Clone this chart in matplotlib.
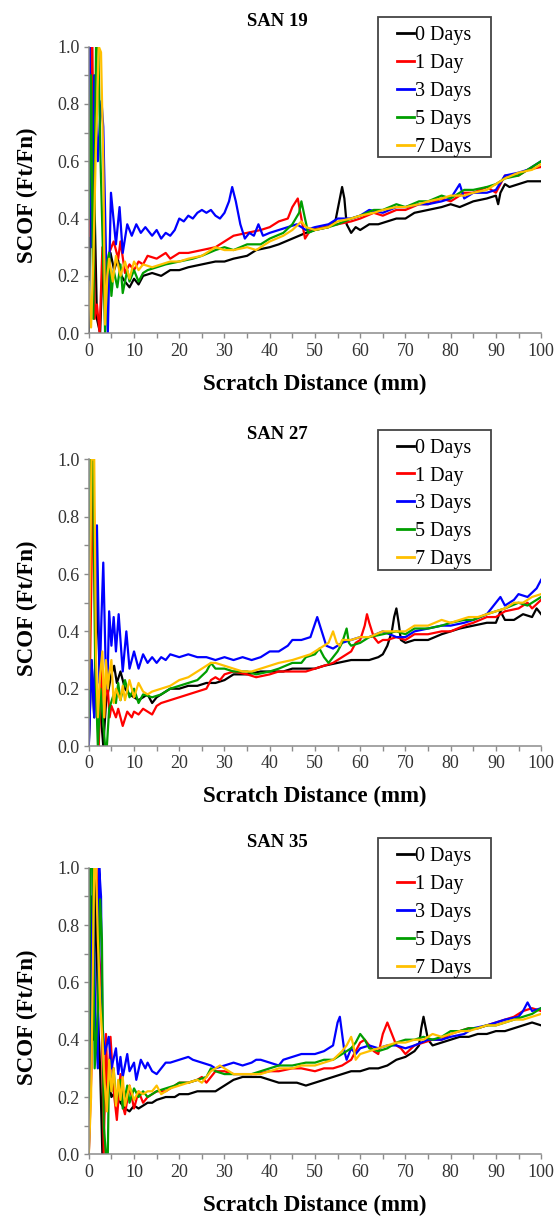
import matplotlib

matplotlib.use('Agg')

import matplotlib.pyplot as plt
from matplotlib.patches import Rectangle
from matplotlib.ticker import MultipleLocator

plt.rcParams['font.family'] = ['Liberation Serif', 'DejaVu Serif']

series_labels = ['0 Days', '1 Day', '3 Days', '5 Days', '7 Days']
series_colors = ['#000000', '#ff0000', '#0000ff', '#009e00', '#ffc000']
panel_titles = ['SAN 19', 'SAN 27', 'SAN 35']

#   SAN 19: (scratch distance mm, SCOF) for each ageing time
san19_0d = [(0, 0.0), (0.6, 1.0), (1.2, 0.5), (1.8, 0.05), (2.5, 0.0), (3.2, 0.3), (4.0, 0.1), (4.8, 0.28),
            (5.6, 0.22), (6.4, 0.26), (7.2, 0.2), (8, 0.18), (9, 0.16), (10, 0.19), (11, 0.17), (12, 0.20),
            (14, 0.21), (16, 0.20), (18, 0.22), (20, 0.22), (22, 0.23), (25, 0.24), (28, 0.25), (30, 0.25),
            (32, 0.26), (35, 0.27), (37, 0.29), (40, 0.30), (42, 0.31), (45, 0.33), (48, 0.35), (50, 0.36),
            (53, 0.37), (54.5, 0.39), (55.5, 0.47), (56, 0.51), (56.5, 0.47), (57, 0.38), (58, 0.35), (59, 0.37),
            (60, 0.36), (62, 0.38), (64, 0.38), (66, 0.39), (68, 0.40), (70, 0.40), (72, 0.42), (75, 0.43),
            (78, 0.44), (80, 0.45), (82, 0.44), (85, 0.46), (88, 0.47), (90, 0.48), (90.5, 0.45), (91, 0.49),
            (92, 0.52), (93, 0.51), (95, 0.52), (97, 0.53), (100, 0.53)]
san19_1d = [(0, 0.34), (0.4, 1.0), (0.8, 1.0), (1.3, 0.05), (1.8, 0.1), (2.4, 0.0), (3.0, 0.3), (3.6, 0.15),
            (4.5, 0.28), (5.5, 0.32), (6.5, 0.26), (7, 0.32), (8, 0.21), (9, 0.24), (10, 0.22), (11, 0.25),
            (12, 0.24), (13, 0.27), (15, 0.26), (17, 0.28), (18, 0.26), (20, 0.28), (22, 0.28), (25, 0.29),
            (28, 0.30), (30, 0.32), (32, 0.34), (35, 0.35), (38, 0.36), (40, 0.37), (42, 0.39), (44, 0.40),
            (45, 0.44), (46.2, 0.47), (47, 0.40), (47.8, 0.33), (49, 0.36), (52, 0.37), (55, 0.38), (58, 0.39),
            (60, 0.40), (63, 0.42), (65, 0.41), (68, 0.43), (70, 0.43), (73, 0.45), (75, 0.45), (78, 0.47),
            (80, 0.46), (83, 0.49), (85, 0.49), (88, 0.51), (90, 0.49), (92, 0.55), (95, 0.55), (97, 0.57),
            (100, 0.58)]
san19_3d = [(0, 1.0), (0.2, 1.0), (0.6, 0.3), (1.2, 0.9), (2.0, 0.6), (2.5, 0.75), (2.8, 0.81), (3.2, 0.72),
            (3.7, 0.35), (4.2, 0.0), (4.9, 0.49), (6, 0.31), (6.8, 0.44), (7.5, 0.28), (8.5, 0.38), (9.5, 0.34),
            (10.5, 0.38), (11.5, 0.35), (12.5, 0.37), (14, 0.34), (15, 0.36), (16, 0.33), (17, 0.35), (18, 0.34),
            (19, 0.36), (20, 0.40), (21, 0.39), (22, 0.41), (23, 0.40), (24, 0.42), (25, 0.43), (26, 0.42),
            (27, 0.43), (28, 0.41), (29, 0.40), (30, 0.42), (31, 0.46), (31.7, 0.51), (32.5, 0.46), (33.5, 0.38),
            (34.5, 0.33), (35.5, 0.35), (36.5, 0.34), (37.5, 0.38), (38.5, 0.34), (40, 0.35), (42, 0.36),
            (44, 0.37), (46, 0.38), (48, 0.36), (50, 0.37), (53, 0.38), (55, 0.40), (58, 0.40), (60, 0.41),
            (62, 0.43), (65, 0.42), (68, 0.44), (70, 0.44), (73, 0.45), (75, 0.45), (78, 0.46), (80, 0.47),
            (82, 0.52), (83, 0.47), (85, 0.49), (88, 0.49), (90, 0.50), (92, 0.55), (95, 0.56), (97, 0.57),
            (100, 0.60)]
san19_5d = [(0, 0.4), (0.5, 0.9), (1.0, 0.05), (1.6, 1.0), (2.1, 1.0), (2.6, 0.6), (3.1, 0.3), (3.6, 0.0),
            (4.1, 0.25), (4.5, 0.28), (5, 0.13), (5.5, 0.22), (6.3, 0.16), (7, 0.24), (7.5, 0.14), (8.5, 0.22),
            (9, 0.18), (10, 0.22), (11, 0.18), (12, 0.21), (13, 0.22), (15, 0.23), (17, 0.24), (20, 0.25),
            (23, 0.26), (25, 0.27), (28, 0.29), (30, 0.30), (32, 0.29), (35, 0.31), (38, 0.31), (40, 0.33),
            (43, 0.35), (45, 0.38), (46.5, 0.42), (47, 0.46), (47.8, 0.40), (48.5, 0.35), (50, 0.36), (53, 0.37),
            (55, 0.38), (58, 0.40), (60, 0.41), (63, 0.43), (65, 0.43), (68, 0.45), (70, 0.44), (73, 0.46),
            (75, 0.46), (78, 0.48), (80, 0.47), (83, 0.50), (85, 0.50), (88, 0.51), (90, 0.52), (92, 0.54),
            (95, 0.55), (97, 0.57), (100, 0.60)]
san19_7d = [(0, 0.18), (0.5, 0.02), (1.0, 0.25), (1.5, 0.6), (2.2, 1.0), (2.7, 0.98), (3.2, 0.6), (3.6, 0.03),
            (4.1, 0.2), (4.5, 0.26), (5.3, 0.18), (6, 0.27), (7, 0.20), (8, 0.25), (9, 0.19), (10, 0.25),
            (11, 0.22), (12, 0.24), (14, 0.23), (16, 0.24), (18, 0.25), (20, 0.25), (22, 0.26), (25, 0.27),
            (28, 0.30), (30, 0.29), (32, 0.29), (35, 0.30), (37, 0.29), (40, 0.32), (43, 0.34), (45, 0.36),
            (47, 0.39), (48, 0.37), (50, 0.36), (53, 0.37), (55, 0.39), (58, 0.40), (60, 0.41), (63, 0.42),
            (65, 0.43), (68, 0.44), (70, 0.44), (73, 0.45), (75, 0.46), (78, 0.47), (80, 0.48), (83, 0.48),
            (85, 0.49), (88, 0.50), (90, 0.52), (92, 0.54), (95, 0.56), (98, 0.57), (100, 0.59)]

#   SAN 27
san27_0d = [(0, 0.0), (0.6, 0.3), (1.2, 0.1), (1.8, 0.54), (2.2, 0.35), (2.7, 0.1), (3.2, 0.0), (3.8, 0.15),
            (4.4, 0.2), (5.0, 0.25), (5.6, 0.28), (6.2, 0.22), (7, 0.26), (8, 0.20), (9, 0.18), (10, 0.17),
            (11, 0.16), (12, 0.17), (13, 0.18), (14, 0.15), (15, 0.17), (16, 0.18), (17, 0.19), (18, 0.20),
            (20, 0.20), (22, 0.21), (24, 0.21), (26, 0.22), (28, 0.22), (30, 0.23), (32, 0.25), (35, 0.25),
            (38, 0.26), (40, 0.26), (43, 0.26), (45, 0.27), (48, 0.27), (50, 0.27), (52, 0.28), (55, 0.29),
            (58, 0.30), (60, 0.30), (62, 0.30), (64, 0.31), (65, 0.32), (66, 0.35), (67, 0.40), (67.5, 0.45),
            (68, 0.48), (68.5, 0.43), (69, 0.37), (70, 0.36), (72, 0.37), (75, 0.37), (78, 0.39), (80, 0.40),
            (82, 0.41), (85, 0.42), (88, 0.43), (90, 0.43), (91, 0.47), (92, 0.44), (94, 0.44), (96, 0.46),
            (98, 0.45), (99, 0.48), (100, 0.46)]
san27_1d = [(0, 0.0), (0.5, 0.5), (1.0, 1.0), (1.6, 0.2), (2.2, 0.0), (2.8, 0.3), (3.4, 0.1), (4.0, 0.25),
            (4.6, 0.1), (5, 0.14), (6, 0.10), (6.5, 0.13), (7.5, 0.07), (8.5, 0.12), (9.5, 0.10), (10, 0.12),
            (11, 0.11), (12, 0.13), (13, 0.12), (14, 0.11), (15, 0.14), (16, 0.15), (18, 0.16), (20, 0.17),
            (22, 0.18), (24, 0.19), (26, 0.20), (27, 0.23), (28, 0.24), (29, 0.23), (30, 0.25), (32, 0.26),
            (35, 0.25), (37, 0.24), (40, 0.25), (42, 0.26), (45, 0.26), (48, 0.26), (50, 0.27), (52, 0.28),
            (54, 0.29), (56, 0.31), (58, 0.33), (59, 0.36), (60, 0.37), (61, 0.42), (61.5, 0.46), (62, 0.43),
            (63, 0.38), (64, 0.36), (65, 0.37), (66, 0.37), (68, 0.38), (70, 0.37), (72, 0.39), (75, 0.39),
            (78, 0.40), (80, 0.40), (83, 0.42), (85, 0.43), (88, 0.45), (90, 0.45), (92, 0.47), (95, 0.48),
            (97, 0.50), (98, 0.48), (100, 0.51)]
san27_3d = [(0, 0.0), (0.6, 0.3), (1.2, 0.1), (1.8, 0.77), (2.4, 0.22), (2.8, 0.45), (3.2, 0.64), (3.7, 0.3),
            (4.1, 0.2), (4.5, 0.47), (5, 0.35), (5.5, 0.45), (6, 0.33), (6.6, 0.46), (7.5, 0.26), (8.3, 0.40),
            (9, 0.27), (10, 0.33), (11, 0.27), (12, 0.32), (13, 0.29), (14, 0.31), (15, 0.29), (16, 0.31),
            (17, 0.30), (18, 0.32), (20, 0.31), (22, 0.32), (24, 0.31), (26, 0.31), (28, 0.30), (30, 0.31),
            (32, 0.30), (34, 0.31), (36, 0.30), (38, 0.31), (40, 0.33), (42, 0.33), (44, 0.35), (45, 0.37),
            (47, 0.37), (49, 0.38), (50.5, 0.45), (51.5, 0.40), (52.5, 0.35), (54, 0.34), (56, 0.36), (58, 0.37),
            (60, 0.38), (62, 0.38), (65, 0.40), (68, 0.38), (70, 0.38), (72, 0.40), (75, 0.41), (78, 0.42),
            (80, 0.42), (83, 0.43), (85, 0.44), (88, 0.46), (90, 0.50), (91, 0.52), (92, 0.49), (94, 0.51),
            (95, 0.53), (97, 0.52), (99, 0.55), (100, 0.58)]
san27_5d = [(0, 0.1), (0.4, 1.0), (0.9, 1.0), (1.4, 0.3), (2.0, 0.0), (2.6, 0.2), (3.1, 0.1), (3.6, 0.0),
            (4.0, 0.0), (4.5, 0.13), (5.5, 0.18), (6, 0.15), (6.5, 0.22), (7, 0.16), (8, 0.23), (9, 0.17),
            (10, 0.20), (11, 0.15), (12, 0.18), (14, 0.17), (16, 0.18), (18, 0.20), (20, 0.21), (22, 0.22),
            (24, 0.23), (26, 0.26), (27, 0.29), (28, 0.27), (30, 0.27), (32, 0.26), (35, 0.26), (37, 0.25),
            (40, 0.26), (42, 0.27), (45, 0.29), (47, 0.29), (48, 0.31), (50, 0.32), (51, 0.34), (52, 0.31),
            (53, 0.29), (55, 0.33), (56, 0.36), (57, 0.41), (57.5, 0.36), (58, 0.35), (60, 0.36), (62, 0.38),
            (65, 0.39), (68, 0.40), (70, 0.39), (72, 0.41), (75, 0.41), (78, 0.42), (80, 0.43), (83, 0.44),
            (85, 0.44), (88, 0.46), (90, 0.47), (92, 0.48), (95, 0.50), (97, 0.49), (100, 0.52)]
san27_7d = [(0, 0.2), (0.6, 1.0), (1.2, 1.0), (1.6, 0.3), (2.0, 0.1), (2.5, 0.25), (3.0, 0.33), (3.4, 0.1),
            (3.8, 0.3), (4.2, 0.2), (4.5, 0.25), (5, 0.30), (5.5, 0.15), (6, 0.20), (7, 0.16), (7.5, 0.21),
            (8, 0.16), (9, 0.23), (10, 0.17), (11, 0.22), (12, 0.19), (13, 0.18), (14, 0.19), (16, 0.20),
            (18, 0.21), (20, 0.23), (22, 0.24), (24, 0.26), (26, 0.28), (27, 0.29), (28, 0.29), (30, 0.28),
            (32, 0.27), (34, 0.26), (36, 0.26), (38, 0.27), (40, 0.28), (42, 0.29), (45, 0.30), (47, 0.31),
            (49, 0.32), (51, 0.34), (53, 0.36), (54, 0.40), (54.8, 0.36), (55.5, 0.35), (56, 0.37), (58, 0.37),
            (60, 0.38), (62, 0.38), (65, 0.40), (68, 0.40), (70, 0.40), (72, 0.42), (75, 0.42), (78, 0.44),
            (80, 0.43), (82, 0.44), (84, 0.45), (86, 0.45), (88, 0.46), (90, 0.47), (92, 0.48), (94, 0.50),
            (96, 0.50), (98, 0.52), (100, 0.53)]

#   SAN 35
san35_0d = [(0, 0.0), (0.5, 0.9), (1.0, 0.4), (1.5, 1.0), (2.0, 0.5), (2.5, 0.3), (3.0, 0.0), (3.5, 0.2),
            (4.0, 0.3), (5.0, 0.2), (6.0, 0.22), (7.0, 0.18), (8, 0.16), (9, 0.15), (10, 0.17), (11, 0.16),
            (12, 0.17), (13, 0.18), (14, 0.18), (15, 0.19), (17, 0.20), (19, 0.20), (20, 0.21), (22, 0.21),
            (24, 0.22), (26, 0.22), (28, 0.22), (30, 0.24), (32, 0.26), (34, 0.27), (36, 0.27), (38, 0.27),
            (40, 0.26), (42, 0.25), (44, 0.25), (46, 0.25), (48, 0.24), (50, 0.25), (52, 0.26), (54, 0.27),
            (56, 0.28), (58, 0.29), (60, 0.29), (62, 0.30), (64, 0.30), (66, 0.31), (68, 0.33), (70, 0.34),
            (72, 0.36), (73, 0.38), (73.5, 0.44), (74, 0.48), (74.5, 0.44), (75, 0.40), (76, 0.38), (78, 0.39),
            (80, 0.40), (82, 0.41), (84, 0.41), (86, 0.42), (88, 0.42), (90, 0.43), (92, 0.43), (94, 0.44),
            (96, 0.45), (98, 0.46), (100, 0.45)]
san35_1d = [(0, 0.0), (0.6, 0.3), (1.1, 1.0), (1.7, 1.0), (2.3, 0.7), (2.8, 0.57), (3.3, 0.0), (3.8, 0.42),
            (4.2, 0.20), (4.8, 0.41), (5.5, 0.22), (6.2, 0.12), (7, 0.28), (7.5, 0.17), (8, 0.14), (9, 0.24),
            (10, 0.16), (11, 0.22), (12, 0.18), (13, 0.20), (14, 0.21), (15, 0.22), (17, 0.22), (19, 0.24),
            (20, 0.25), (22, 0.25), (24, 0.26), (25, 0.27), (26, 0.25), (27, 0.27), (28, 0.29), (30, 0.29),
            (32, 0.28), (35, 0.28), (37, 0.28), (40, 0.29), (42, 0.29), (45, 0.30), (47, 0.30), (50, 0.29),
            (52, 0.30), (54, 0.30), (56, 0.31), (57, 0.32), (58, 0.33), (59, 0.36), (60, 0.39), (61, 0.40),
            (62, 0.38), (63, 0.36), (64, 0.35), (65, 0.42), (66, 0.46), (67, 0.42), (68, 0.38), (69, 0.37),
            (70, 0.35), (72, 0.38), (74, 0.39), (76, 0.40), (78, 0.40), (80, 0.42), (82, 0.43), (84, 0.44),
            (86, 0.44), (88, 0.45), (90, 0.46), (92, 0.47), (94, 0.48), (96, 0.50), (98, 0.51), (100, 0.50)]
san35_3d = [(0, 0.0), (0.5, 0.4), (0.9, 1.0), (1.4, 0.5), (2.0, 0.3), (2.3, 1.0), (2.7, 0.9), (3.0, 0.46),
            (3.5, 0.35), (4.4, 0.41), (5, 0.30), (6, 0.37), (6.5, 0.28), (7, 0.34), (7.5, 0.27), (8.5, 0.35),
            (9, 0.29), (10, 0.32), (10.5, 0.26), (11.5, 0.33), (12.5, 0.30), (13, 0.32), (14, 0.29), (15, 0.28),
            (16, 0.30), (17, 0.32), (18, 0.32), (20, 0.33), (22, 0.34), (23, 0.33), (25, 0.32), (27, 0.31),
            (28, 0.30), (30, 0.31), (32, 0.32), (34, 0.31), (36, 0.32), (37, 0.33), (38, 0.33), (40, 0.32),
            (42, 0.31), (43, 0.33), (45, 0.34), (47, 0.35), (50, 0.35), (52, 0.36), (53, 0.37), (54, 0.38),
            (55, 0.46), (55.5, 0.48), (56, 0.42), (56.5, 0.36), (57, 0.33), (58, 0.37), (59, 0.35), (60, 0.37),
            (62, 0.38), (64, 0.37), (66, 0.38), (68, 0.38), (70, 0.37), (72, 0.38), (75, 0.40), (78, 0.40),
            (80, 0.41), (83, 0.42), (85, 0.44), (88, 0.45), (90, 0.46), (92, 0.47), (95, 0.48), (96, 0.50),
            (97, 0.53), (98, 0.50), (100, 0.51)]
san35_5d = [(0, 0.1), (0.3, 1.0), (0.8, 1.0), (1.3, 0.3), (2.0, 0.5), (2.5, 0.89), (2.9, 0.75), (3.3, 0.1),
            (3.8, 0.0), (4.2, 0.0), (4.5, 0.33), (5, 0.22), (5.5, 0.30), (6, 0.18), (7, 0.26), (7.5, 0.16),
            (8.5, 0.24), (9, 0.18), (10, 0.23), (11, 0.20), (12, 0.22), (13, 0.20), (14, 0.21), (15, 0.22),
            (17, 0.23), (19, 0.24), (20, 0.25), (22, 0.25), (24, 0.26), (26, 0.27), (27, 0.30), (28, 0.29),
            (30, 0.28), (32, 0.28), (34, 0.28), (36, 0.28), (38, 0.29), (40, 0.30), (42, 0.31), (45, 0.31),
            (48, 0.32), (50, 0.32), (52, 0.33), (54, 0.33), (56, 0.35), (57, 0.36), (58, 0.37), (59, 0.39),
            (60, 0.42), (61, 0.40), (62, 0.37), (64, 0.36), (66, 0.37), (68, 0.39), (70, 0.40), (72, 0.40),
            (74, 0.41), (76, 0.40), (78, 0.41), (80, 0.43), (82, 0.43), (84, 0.44), (86, 0.44), (88, 0.45),
            (90, 0.45), (92, 0.46), (94, 0.47), (96, 0.48), (98, 0.49), (100, 0.51)]
san35_7d = [(0, 0.0), (0.5, 0.2), (1.2, 1.0), (1.6, 1.0), (2.0, 0.75), (2.5, 0.53), (3.0, 0.40), (3.5, 0.25),
            (4.0, 0.15), (4.5, 0.33), (5, 0.22), (5.5, 0.30), (6, 0.17), (6.5, 0.26), (7, 0.19), (7.5, 0.27),
            (8, 0.17), (9, 0.24), (10, 0.19), (11, 0.22), (12, 0.21), (13, 0.22), (14, 0.22), (15, 0.24),
            (16, 0.21), (18, 0.23), (20, 0.24), (22, 0.25), (24, 0.26), (25, 0.25), (26, 0.27), (27, 0.29),
            (28, 0.30), (29, 0.31), (30, 0.30), (32, 0.28), (34, 0.28), (36, 0.28), (38, 0.28), (40, 0.29),
            (42, 0.30), (45, 0.30), (47, 0.31), (50, 0.31), (52, 0.32), (54, 0.33), (56, 0.36), (57, 0.38),
            (58, 0.41), (58.5, 0.38), (59, 0.33), (60, 0.35), (62, 0.36), (64, 0.37), (66, 0.38), (68, 0.39),
            (70, 0.39), (72, 0.40), (74, 0.40), (76, 0.42), (78, 0.41), (80, 0.42), (82, 0.43), (84, 0.43),
            (86, 0.44), (88, 0.45), (90, 0.45), (92, 0.46), (94, 0.47), (96, 0.47), (98, 0.48), (100, 0.49)]

panel_curves = [
    [san19_0d, san19_1d, san19_3d, san19_5d, san19_7d],
    [san27_0d, san27_1d, san27_3d, san27_5d, san27_7d],
    [san35_0d, san35_1d, san35_3d, san35_5d, san35_7d],
]

AXIS_GREY = '#8c8c8c'


#   draws one SCOF vs scratch distance panel with its legend and title
def draw_panel(ax, title, curves):
    for points, label, color in zip(curves, series_labels, series_colors):
        xs = [p[0] for p in points]
        ys = [p[1] for p in points]
        ax.plot(xs, ys, color=color, lw=1.6, label=label, solid_joinstyle='round')

    ax.set_xlim(0, 100)
    ax.set_ylim(0, 1.0)
    ax.xaxis.set_major_locator(MultipleLocator(10))
    ax.xaxis.set_minor_locator(MultipleLocator(5))
    ax.yaxis.set_major_locator(MultipleLocator(0.2))
    ax.yaxis.set_minor_locator(MultipleLocator(0.1))
    ax.yaxis.set_major_formatter(plt.FuncFormatter(lambda v, _: '%.1f' % v))

    for side in ('top', 'right'):
        ax.spines[side].set_visible(False)
    for side in ('left', 'bottom'):
        ax.spines[side].set_color(AXIS_GREY)
        ax.spines[side].set_linewidth(1.1)

    ax.tick_params(which='both', direction='out', length=3.8, width=1.0, color=AXIS_GREY,
                   labelsize=13, labelcolor='#333333', pad=3)

    ax.set_xlabel('Scratch Distance (mm)', fontsize=16.5, fontweight='bold', labelpad=10)
    ax.set_ylabel('SCOF (Ft/Fn)', fontsize=16.5, fontweight='bold')
    ax.yaxis.set_label_coords(-0.112, 0.48)
    ax.text(0.416, 1.088, title, transform=ax.transAxes, ha='center', va='center',
            fontsize=13.5, fontweight='bold')

    # legend box drawn separately so the padding can be wider than tall
    ax.add_patch(Rectangle((0.639, 0.615), 0.25, 0.489, transform=ax.transAxes, clip_on=False,
                           facecolor='white', edgecolor='#444444', lw=1.3, zorder=4))
    leg = ax.legend(loc='upper left', bbox_to_anchor=(0.681, 1.073), borderaxespad=0, borderpad=0,
                    fontsize=14.5, handlelength=0.85, handletextpad=0.05, labelspacing=0.44,
                    frameon=False)
    leg.set_zorder(5)
    for line in leg.get_lines():
        line.set_linewidth(2.0)


def main():
    fig = plt.figure(figsize=(5.55, 12.16), dpi=100)
    bottoms = [0.726, 0.3865, 0.0507]
    for title, curves, bottom in zip(panel_titles, panel_curves, bottoms):
        ax = fig.add_axes([0.160, bottom, 0.815, 0.2357])
        draw_panel(ax, title, curves)
    fig.savefig('out.png', dpi=100)
    plt.close(fig)


if __name__ == '__main__':
    main()
